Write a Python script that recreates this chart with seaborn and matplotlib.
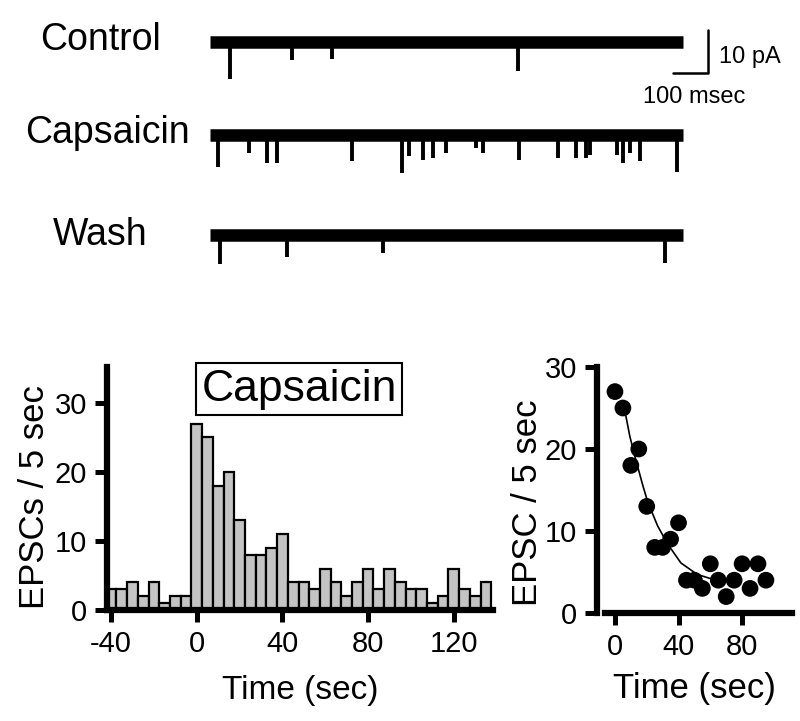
from matplotlib import pyplot as plt
import seaborn as sns
import pandas as pd

# Raw traces: event times (ms) and amplitudes (pA) of the inward EPSCs
trace_names = ['Control', 'Capsaicin', 'Wash']
trace_length = 1350
control_times = [57, 234, 349, 880]
control_amps = [8.6, 4.2, 4.0, 6.7]
capsaicin_times = [23, 111, 163, 191, 406, 549, 569, 609, 637, 674, 760, 780,
                   883, 994, 1046, 1074, 1086, 1163, 1180, 1200, 1229, 1334]
capsaicin_amps = [7.4, 4.2, 6.5, 6.5, 6.0, 8.8, 5.0, 5.8, 5.3, 4.2, 3.0, 4.2,
                  5.8, 5.3, 5.3, 5.3, 4.8, 4.8, 6.5, 4.2, 6.0, 8.6]
wash_times = [29, 220, 494, 1300]
wash_amps = [6.7, 5.1, 4.2, 6.5]

# Histogram of EPSCs per 5 sec bin (bin centre in sec)
hist_time = [-40, -35, -30, -25, -20, -15, -10, -5, 0, 5, 10, 15, 20, 25, 30, 35,
             40, 45, 50, 55, 60, 65, 70, 75, 80, 85, 90, 95, 100, 105, 110, 115,
             120, 125, 130, 135]
hist_count = [3, 3, 4, 2, 4, 1, 2, 2, 27, 25, 18, 20, 13, 8, 8, 9,
              11, 4, 4, 3, 6, 4, 2, 4, 6, 3, 6, 4, 3, 3, 1, 2,
              6, 3, 2, 4]

# Decay after capsaicin application
decay_time = [0, 5, 10, 15, 20, 25, 30, 35, 40, 45, 50, 55, 60, 65, 70, 75, 80, 85, 90, 95]
decay_count = [27, 25, 18, 20, 13, 8, 8, 9, 11, 4, 4, 3, 6, 4, 2, 4, 6, 3, 6, 4]
fit_time = [6.8, 9.3, 12.4, 17.6, 20.7, 26.9, 33.2, 41.5, 51.8, 60.1]
fit_value = [24.1, 21.6, 19.2, 15.5, 13.5, 10.6, 8.4, 6.1, 4.7, 4.2]

sns.set_style('ticks')
plt.rcParams['font.family'] = ['Liberation Sans', 'DejaVu Sans']
plt.rcParams['axes.unicode_minus'] = False
for key in ('text.color', 'axes.labelcolor', 'xtick.color', 'ytick.color', 'axes.edgecolor'):
    plt.rcParams[key] = 'black'

W, H = 800, 721
fig = plt.figure(figsize=(W / 100, H / 100), dpi=100)


def fx(x):
    return x / W


def fy(y):
    return 1 - y / H


# ---- traces ----
ax_tr = fig.add_axes([fx(200), fy(290), fx(520), 270 / H])
ax_tr.set_xlim(-28.6, 1457)
ax_tr.set_ylim(-62.8, 0)
ax_tr.axis('off')

offsets = [-5.1, -26.7, -50.0]
events = [(control_times, control_amps), (capsaicin_times, capsaicin_amps), (wash_times, wash_amps)]
label_pos = [(101, 40), (107, 133), (100, 235)]
for name, off, (times, amps), (lx, ly) in zip(trace_names, offsets, events, label_pos):
    ax_tr.plot([0, trace_length], [off, off], color='black', lw=9, solid_capstyle='butt')
    ax_tr.vlines(times, off, [off - a for a in amps], color='black', lw=2.8)
    fig.text(fx(lx), fy(ly), name, fontsize=27, ha='center', va='center')

# scale bar 100 ms / 10 pA
ax_tr.plot([1323, 1423, 1423], [-12.3, -12.3, -2.3], color='black', lw=1.8)
fig.text(fx(719), fy(57), '10 pA', fontsize=17, ha='left', va='center')
fig.text(fx(643), fy(97), '100 msec', fontsize=17, ha='left', va='center')

# ---- histogram ----
hist_df = pd.DataFrame({'time': hist_time, 'count': hist_count})
ax1 = fig.add_axes([fx(107), fy(610), fx(386), 243 / H])
sns.histplot(data=hist_df, x='time', weights='count', binwidth=5, binrange=(-42.5, 137.5),
             color='#c4c4c4', edgecolor='black', linewidth=1.6, alpha=1, ax=ax1)
ax1.set_xlim(-41.9, 138.3)
ax1.set_ylim(0, 35.2)
ax1.set_xticks([-40, 0, 40, 80, 120])
ax1.set_yticks([0, 10, 20, 30])
ax1.set_xlabel('Time (sec)', fontsize=24, labelpad=12)
ax1.set_ylabel('EPSCs / 5 sec', fontsize=25)
ax1.yaxis.set_label_coords(-0.145, 0.465)

fig.text(fx(299), fy(389), 'Capsaicin', fontsize=32, ha='center', va='center',
         bbox=dict(boxstyle='square,pad=0.13', fc='white', ec='black', lw=1.5))

# ---- decay ----
decay_df = pd.DataFrame({'time': decay_time, 'count': decay_count})
fit_df = pd.DataFrame({'time': fit_time, 'value': fit_value})
ax2 = fig.add_axes([fx(597), fy(613), fx(195), 246 / H])
sns.lineplot(data=fit_df, x='time', y='value', color='black', lw=1.2, ax=ax2)
sns.scatterplot(data=decay_df, x='time', y='count', color='black', s=145, edgecolor='none',
                clip_on=False, zorder=3, ax=ax2)
ax2.set_xlim(-11.3, 111.4)
ax2.set_ylim(0, 30)
ax2.set_xticks([0, 40, 80])
ax2.set_yticks([0, 10, 20, 30])
ax2.set_xlabel('Time (sec)', fontsize=25, labelpad=8)
ax2.set_ylabel('EPSC / 5 sec', fontsize=25)
ax2.yaxis.set_label_coords(-0.272, 0.447)
ax2.spines['bottom'].set_bounds(-6.3, 111.4)

for ax in (ax1, ax2):
    sns.despine(ax=ax)
    for side in ('left', 'bottom'):
        ax.spines[side].set_linewidth(4.5)
    ax.tick_params(width=3.6, length=8.5, labelsize=21, pad=6)

fig.savefig('out.png', dpi=100)
